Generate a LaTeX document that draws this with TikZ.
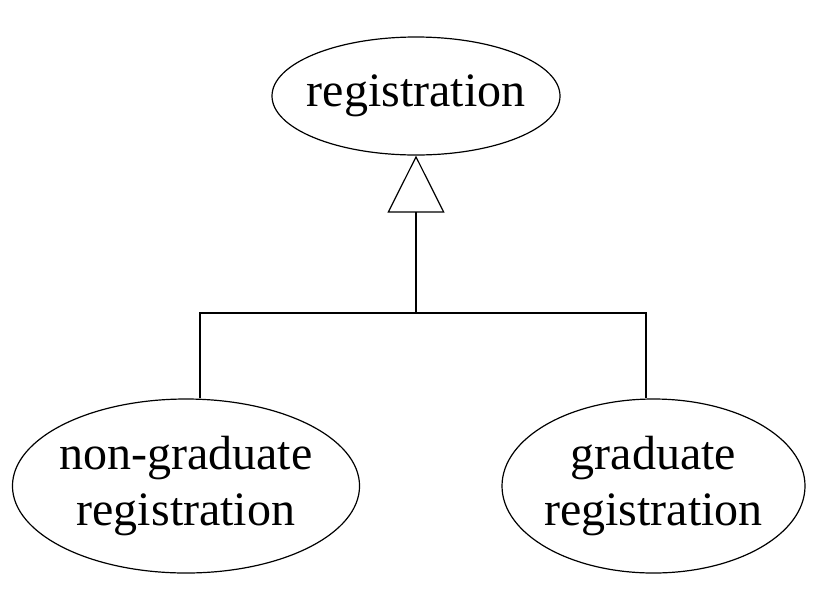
\documentclass[tikz,border=0pt]{standalone}
\usepackage{fontspec}
\setmainfont{Liberation Serif}
\usepackage{tikz}
\usetikzlibrary{positioning,arrows.meta,shapes.geometric}

\begin{document}
\begin{tikzpicture}[x=1pt,y=1pt,
        usecase/.style={draw, ellipse, inner sep=0pt, line width=1.2pt, align=center,
            font=\fontsize{48}{56}\selectfont},
        link/.style={line width=1.2pt}]
        \useasboundingbox (0,0) rectangle (821,-590);

        % Parent use case
        \node[usecase, inner xsep=-7.7pt, minimum width=288pt, minimum height=118pt] (reg) at (416,-96) {registration};

        % Specialised use cases
        \node[usecase, inner xsep=-3.9pt, minimum width=346pt, minimum height=174pt] (nongrad) at (186,-486) {non-graduate\\registration};
        \node[usecase, inner xsep=-2.4pt, minimum width=303pt, minimum height=174pt] (grad) at (653.5,-486) {graduate\\registration};

        % Generalisation
        \coordinate (join) at (416,-313);
        \draw[link] ([xshift=14pt]nongrad.north) |- (join) -| ([xshift=-7.5pt]grad.north);
        \draw[link, -{Triangle[open, length=57pt, width=57pt]}] (join) -- (reg.south);
    \end{tikzpicture}
\end{document}
